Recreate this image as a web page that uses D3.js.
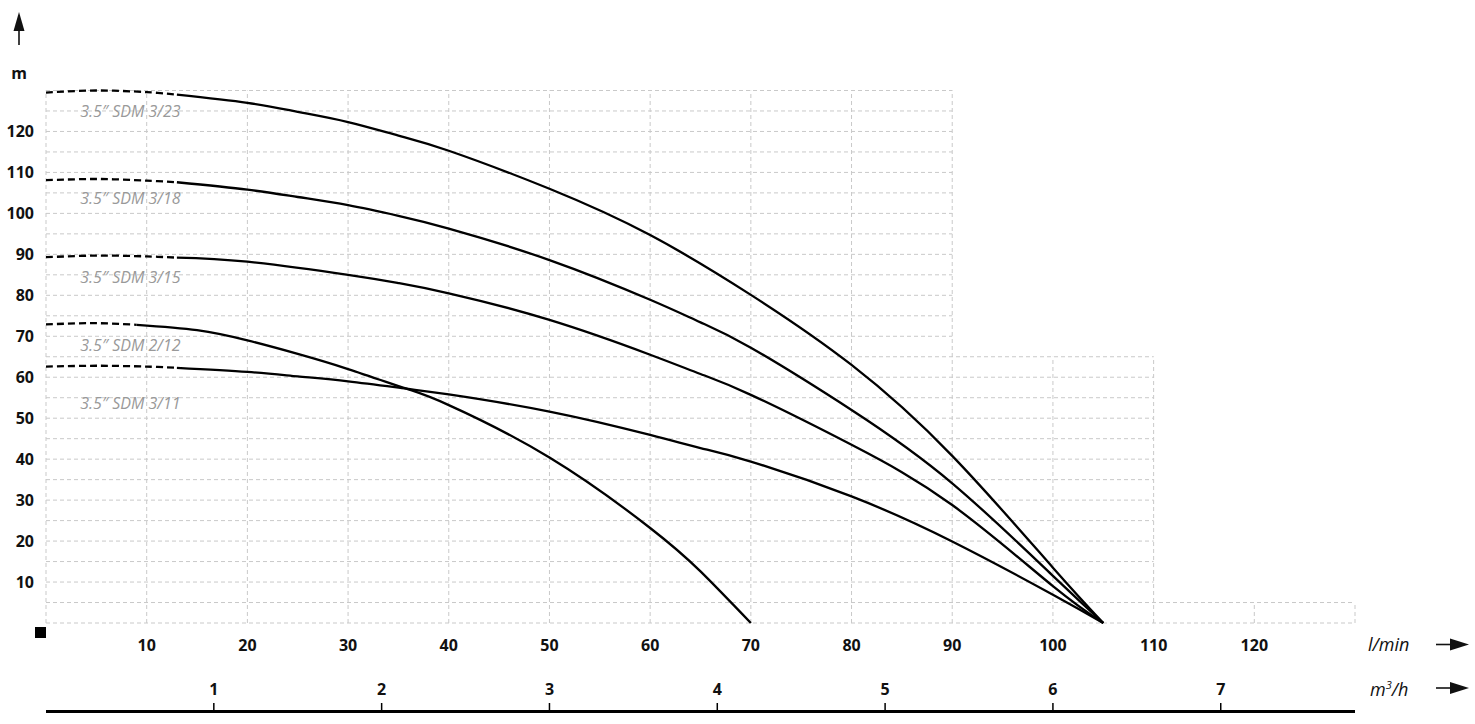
<!DOCTYPE html>
<html><head><meta charset="utf-8">
<script src="https://cdn.jsdelivr.net/npm/d3@7"></script>
<style>
html,body{margin:0;padding:0;background:#fff;}
svg{display:block;}
</style></head>
<body><svg id="chart" width="1475" height="724"></svg>
<script>
// ---- data ----
const seriesNames = ["3.5\u2033 SDM 3/23", "3.5\u2033 SDM 3/18", "3.5\u2033 SDM 3/15", "3.5\u2033 SDM 2/12", "3.5\u2033 SDM 3/11"];
const flow_323 = [0, 5, 10, 13, 20, 25, 30, 35, 40, 50, 60, 70, 80, 90, 100, 105];
const head_323 = [129.5, 130, 129.6, 129, 127, 124.8, 122.3, 119, 115.3, 106, 94.7, 80.1, 63, 40.8, 13.5, 0];
const flow_318 = [0, 5, 10, 13, 20, 25, 30, 35, 40, 50, 60, 65, 70, 80, 90, 100, 105];
const head_318 = [108.1, 108.4, 108, 107.6, 105.8, 104, 102, 99.4, 96.3, 88.6, 78.9, 73.4, 67.2, 52, 34.1, 11.5, 0];
const flow_315 = [0, 5, 10, 13, 20, 30, 35, 40, 50, 60, 65, 70, 80, 90, 100, 105];
const head_315 = [89.3, 89.7, 89.5, 89.2, 88.2, 85, 83, 80.5, 74, 65.5, 60.8, 55.7, 43.5, 28.8, 9, 0];
const flow_212 = [0, 5, 9, 15, 20, 25, 30, 35.8, 40, 50, 60, 65, 70];
const head_212 = [72.9, 73.2, 72.8, 71.5, 69, 65.7, 62, 57.2, 53.2, 40.4, 23.2, 12.6, 0];
const flow_311 = [0, 5, 10, 13, 20, 25, 30, 35.8, 40, 50, 60, 65, 70, 80, 90, 100, 105];
const head_311 = [62.6, 62.8, 62.6, 62.3, 61.3, 60.2, 59, 57.2, 55.8, 51.6, 45.9, 42.7, 39.4, 30.9, 19.9, 6.9, 0];
const dashEnd = [13, 13, 13, 9, 13];          // flow (l/min) where dashed part ends
const labelHead = [125, 103.7, 84.4, 67.9, 53.7]; // head (m) where series name sits
const labelFlow = 3.4;
const yTicks = [10, 20, 30, 40, 50, 60, 70, 80, 90, 100, 110, 120];
const xTicks = [10, 20, 30, 40, 50, 60, 70, 80, 90, 100, 110, 120];
const m3Ticks = [1, 2, 3, 4, 5, 6, 7];
// grid steps: [flow from, flow to, top head]
const gridSteps = [[0, 90, 130], [90, 110, 65], [110, 130, 5]];

const flows = [flow_323, flow_318, flow_315, flow_212, flow_311];
const heads = [head_323, head_318, head_315, head_212, head_311];

// ---- drawing ----
const svg = d3.select("#chart");
const x = d3.scaleLinear().domain([0, 130]).range([46, 1355]);
const y = d3.scaleLinear().domain([0, 130]).range([623, 90.5]);
const xm3 = d3.scaleLinear().domain([0, 130 * 60 / 1000]).range(x.range());

const gridColor = "#c9c9c9";
const grid = svg.append("g");
for (let h = 0; h <= 130; h += 5) {
  let right = 0;
  gridSteps.forEach(s => { if (h <= s[2]) right = Math.max(right, s[1]); });
  grid.append("line").attr("x1", x(0)).attr("x2", x(right)).attr("y1", y(h)).attr("y2", y(h))
    .attr("stroke", gridColor).attr("stroke-width", 1).attr("stroke-dasharray", "4,3");
}
for (let f = 0; f <= 130; f += 10) {
  let top = 0;
  gridSteps.forEach(s => { if (f >= s[0] && f <= s[1]) top = Math.max(top, s[2]); });
  grid.append("line").attr("x1", x(f)).attr("x2", x(f)).attr("y1", y(0)).attr("y2", y(top))
    .attr("stroke", gridColor).attr("stroke-width", 1).attr("stroke-dasharray", "4,3");
}

const font = "'Open Sans', 'DejaVu Sans', sans-serif";
const fs = 16;
svg.append("g").selectAll("text").data(yTicks).join("text")
  .attr("x", 34).attr("y", d => y(d) + 6).attr("text-anchor", "end")
  .attr("font-family", font).attr("font-weight", 700).attr("font-size", fs).attr("fill", "#111")
  .text(d => d);
svg.append("text").attr("x", 19).attr("y", 79).attr("text-anchor", "middle")
  .attr("font-family", font).attr("font-weight", 700).attr("font-size", fs).attr("fill", "#111").text("m");

svg.append("line").attr("x1", 19).attr("x2", 19).attr("y1", 45).attr("y2", 28).attr("stroke", "#111").attr("stroke-width", 1.6);
svg.append("path").attr("d", "M19,12 L13.5,31 L24.5,31 Z").attr("fill", "#111");
svg.append("rect").attr("x", 35).attr("y", 627).attr("width", 11).attr("height", 11).attr("fill", "#000");

svg.append("g").selectAll("text").data(xTicks).join("text")
  .attr("x", d => x(d)).attr("y", 651).attr("text-anchor", "middle")
  .attr("font-family", font).attr("font-weight", 700).attr("font-size", fs).attr("fill", "#111")
  .text(d => d);
svg.append("text").attr("x", 1368).attr("y", 651).attr("font-family", font).attr("font-style", "italic")
  .attr("font-size", 18).attr("fill", "#111").text("l/min");

svg.append("line").attr("x1", x(0)).attr("x2", x(130)).attr("y1", 711.5).attr("y2", 711.5)
  .attr("stroke", "#000").attr("stroke-width", 3);
svg.append("g").selectAll("line").data(m3Ticks).join("line")
  .attr("x1", d => xm3(d)).attr("x2", d => xm3(d)).attr("y1", 703).attr("y2", 710)
  .attr("stroke", "#000").attr("stroke-width", 1.5);
svg.append("g").selectAll("text").data(m3Ticks).join("text")
  .attr("x", d => xm3(d)).attr("y", 695).attr("text-anchor", "middle")
  .attr("font-family", font).attr("font-weight", 700).attr("font-size", fs).attr("fill", "#111")
  .text(d => d);
const m3lab = svg.append("text").attr("x", 1370).attr("y", 696).attr("font-family", font).attr("font-style", "italic")
  .attr("font-size", 18).attr("fill", "#111");
m3lab.append("tspan").text("m");
m3lab.append("tspan").attr("font-size", 11).attr("dy", -7).text("3");
m3lab.append("tspan").attr("dy", 7).text("/h");

[644.5, 688].forEach(yy => {
  svg.append("line").attr("x1", 1436).attr("x2", 1455).attr("y1", yy).attr("y2", yy).attr("stroke", "#111").attr("stroke-width", 1.6);
  svg.append("path").attr("d", `M1469,${yy} L1450,${yy - 6} L1450,${yy + 6} Z`).attr("fill", "#111");
});

const dashLine = d3.line().x(d => x(d[0])).y(d => y(d[1])).curve(d3.curveCatmullRom.alpha(0.5));
const solidLine = d3.line().x(d => x(d[0])).y(d => y(d[1])).curve(d3.curveNatural);
const curves = svg.append("g");
flows.forEach((fl, i) => {
  const pts = fl.map((f, j) => [f, heads[i][j]]);
  const dashed = pts.filter(p => p[0] <= dashEnd[i]);
  const solid = pts.filter(p => p[0] >= dashEnd[i]);
  curves.append("path").attr("d", dashLine(dashed)).attr("fill", "none").attr("stroke", "#000")
    .attr("stroke-width", 2.3).attr("stroke-dasharray", "7,4");
  curves.append("path").attr("d", solidLine(solid)).attr("fill", "none").attr("stroke", "#000")
    .attr("stroke-width", 2.3);
  svg.append("text").attr("x", x(labelFlow)).attr("y", y(labelHead[i]) + 6)
    .attr("font-family", font).attr("font-style", "italic").attr("font-size", 16).attr("fill", "#999")
    .text(seriesNames[i]);
});
</script>
</body></html>
